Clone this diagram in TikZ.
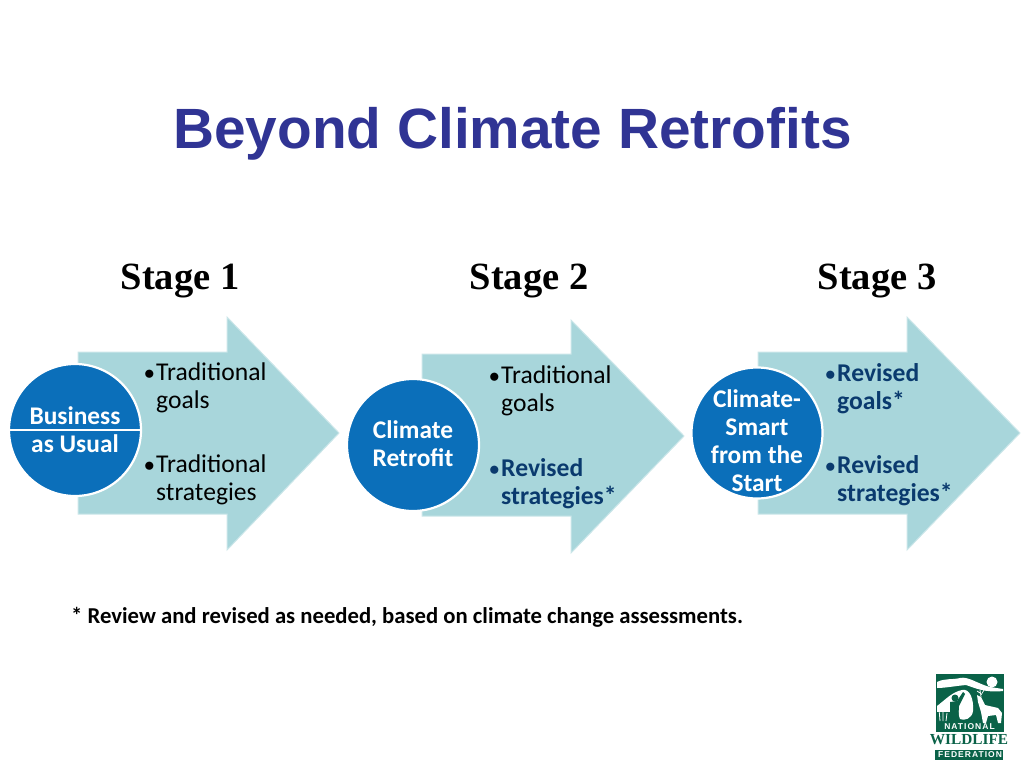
\documentclass[tikz,border=0pt]{standalone}
\usepackage{fontspec}
\setmainfont{Carlito}
\newfontfamily\titlefont{Liberation Sans}
\newfontfamily\stagefont{Liberation Serif}
\definecolor{titleblue}{RGB}{48,52,148}
\definecolor{arrowteal}{RGB}{168,214,219}
\definecolor{circleblue}{RGB}{11,111,186}
\definecolor{reviseblue}{RGB}{10,58,110}
\definecolor{nwfgreen}{RGB}{10,98,72}
\tikzset{
  stagelabel/.style={font=\stagefont\bfseries\fontsize{38.5}{38}\selectfont, text=black},
  arrowshape/.style={fill=arrowteal, draw=arrowteal!60, line width=1pt},
  stagecircle/.style={fill=circleblue, draw=white, line width=2.2pt},
  circletext/.style={font=\bfseries\fontsize{25.4}{28}\selectfont, text=white, align=center},
  goaltext/.style={font=\fontsize{25.6}{28}\selectfont, text=black, align=left, anchor=north west, inner sep=0pt},
  revisedtext/.style={goaltext, font=\bfseries\fontsize{25.6}{28}\selectfont, text=reviseblue},
  logotext/.style={text=white, font=\titlefont\bfseries\fontsize{8.5}{9}\selectfont\addfontfeature{LetterSpace=12}, inner sep=0pt}
}
\newcommand{\goalbullet}{\makebox[12pt][l]{\raisebox{1pt}{\scalebox{0.85}{$\bullet$}}}}
\begin{document}
\begin{tikzpicture}[x=1pt,y=-1pt]
\useasboundingbox (0,0) rectangle (1024,768);
\node [font=\titlefont\bfseries\fontsize{56.8}{60}\selectfont, text=titleblue] (title) at (512.5,134) {Beyond Climate Retrofits};
\node [stagelabel] (stage1) at (180,281) {Stage 1};
\node [stagelabel] (stage2) at (529,281) {Stage 2};
\node [stagelabel] (stage3) at (877,281) {Stage 3};
% first arrow
\draw [arrowshape] (78,352) -- (227,352) -- (227,317) -- (339,433) -- (227,550) -- (227,514) -- (78,514) -- cycle;
% second arrow
\draw [arrowshape] (422,354) -- (571,354) -- (571,320) -- (684,436) -- (571,553) -- (571,516) -- (422,516) -- cycle;
% third arrow
\draw [arrowshape] (758,352) -- (907,352) -- (907,317) -- (1020,433) -- (907,550) -- (907,514) -- (758,514) -- cycle;
\node [stagecircle, circle, minimum size=132pt, inner sep=0pt] (usual) at (75,430) {};
\draw [white, line width=2pt] (usual.west) -- (usual.east);
\node [circletext] (usualtext) at (75,429.5) {Business\\as Usual};
\node [stagecircle, circle, minimum size=132pt, inner sep=0pt] (retrofit) at (413,445) {};
\node [circletext] (retrofittext) at (413,444) {Climate\\Retrofit};
\node [stagecircle, circle, minimum size=131pt, inner sep=0pt] (smart) at (757,433) {};
\node [circletext] (smarttext) at (757,441) {Climate-\\Smart\\from the\\Start};
\node [goaltext] (goalsa) at (144,363) {\goalbullet Traditional\\\hspace*{12pt}goals};
\node [goaltext] (strata) at (144,455) {\goalbullet Traditional\\\hspace*{12pt}strategies};
\node [goaltext] (goalsb) at (489,366) {\goalbullet Traditional\\\hspace*{12pt}goals};
\node [revisedtext] (stratb) at (489,458) {\goalbullet Revised\\\hspace*{12pt}strategies*};
\node [revisedtext] (goalsc) at (825,363) {\goalbullet Revised\\\hspace*{12pt}goals*};
\node [revisedtext] (stratc) at (825,455) {\goalbullet Revised\\\hspace*{12pt}strategies*};
\node [font=\bfseries\fontsize{22.7}{24}\selectfont, anchor=west, inner sep=0pt] (note) at (71,617) {* Review and revised as needed, based on climate change assessments.};
% logo
\fill [nwfgreen] (936,674) rectangle (1004,732);
\fill [white] (937,682) .. controls (945,678) and (952,680) .. (960,678) .. controls (968,676) and (978,684) .. (990,687) -- (1003,689) -- (1003,691) .. controls (985,693) and (975,688) .. (966,685) .. controls (955,686) and (945,688) .. (937,688) -- cycle;
\fill [white] (937,706) .. controls (945,700) and (952,692) .. (962,690) -- (960,700) -- (950,716) -- (937,716) -- cycle;
\fill [white] (962,690) .. controls (970,688) and (974,700) .. (973,711) .. controls (972,719) and (964,721) .. (960,719) .. controls (957,712) and (958,697) .. (962,690) -- cycle;
\fill [white] (992,682) circle (5.5pt);
\fill [nwfgreen] (955,698) circle (3.5pt);
\fill [nwfgreen] (950,702) -- (957,701) -- (963,692) -- (965,694) -- (959,706) -- (958,721) -- (950,721) -- cycle;
\fill [nwfgreen] (937,712) -- (950,712) -- (950,722) -- (937,722) -- cycle;
\draw [white, line width=0.8pt] (940,721) -- (939,709) (943,721) -- (943,711) (946,721) -- (947,713);
\fill [white] (977,695) -- (981,697) -- (985,705) -- (998,708) -- (1002,713) -- (1001,723) -- (998,723) -- (996,715) -- (988,716) -- (986,723) -- (983,723) -- (981,712) -- (978,702) -- cycle;
\draw [white, line width=0.7pt] (981,697) -- (980,690) (980,693) -- (977,691) (981,695) -- (984,690);
\node [logotext] (national) at (969.5,726.5) {NATIONAL};
\node [font=\stagefont\bfseries\fontsize{15.3}{18}\selectfont, text=nwfgreen, inner sep=0pt] (wildlife) at (969,740) {WILDLIFE};
\fill [nwfgreen] (935,750) rectangle (1003,760);
\node [logotext] (federation) at (970,755) {FEDERATION};
\end{tikzpicture}
\end{document}
